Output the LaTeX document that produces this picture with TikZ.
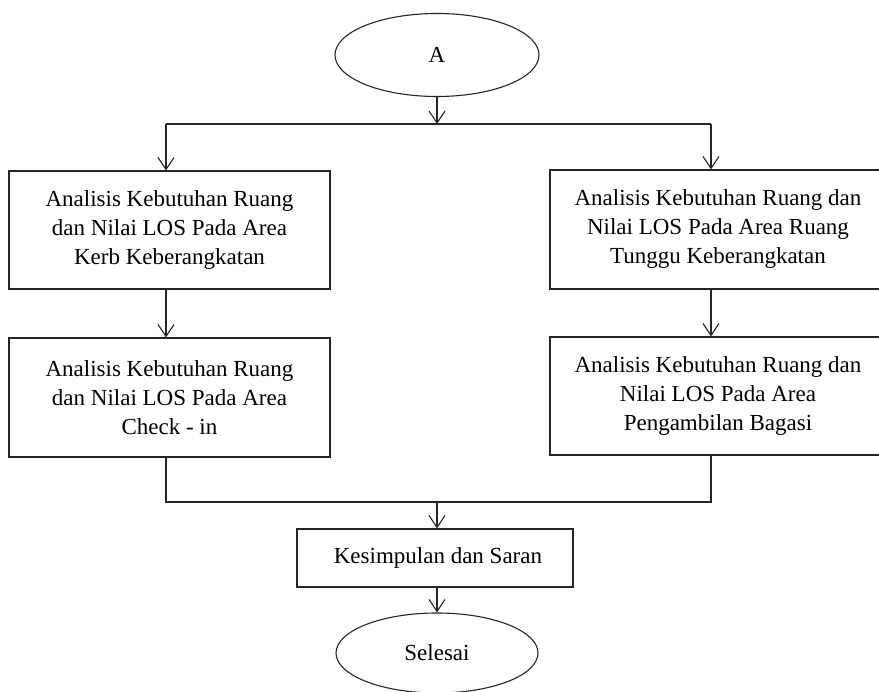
\documentclass[tikz,border=0pt]{standalone}
\usepackage{fontspec}
\setmainfont{Liberation Serif}
\usetikzlibrary{arrows.meta,shapes.geometric}
\begin{document}
\begin{tikzpicture}[x=1pt,y=-1pt,
  line/.style={draw=black!85, line width=1.1pt},
  arr/.style={line, -{Straight Barb[length=12pt,width=16pt,line width=1.1pt]}},
  box/.style={draw=black!85, line width=1.1pt, rectangle, align=center, inner sep=0pt, font=\fontsize{23}{29}\selectfont},
  term/.style={draw=black!85, line width=1.1pt, ellipse, inner sep=0pt, font=\fontsize{23}{29}\selectfont}]
\useasboundingbox (0,0) rectangle (879,692);
\fill[white] (0,0) rectangle (879,692);
\node[term, minimum width=204pt, minimum height=83pt] (A) at (437,55) {A};
\coordinate (split) at (437,124);
\coordinate (L) at (166,124);
\coordinate (R) at (711,124);
\node[box, minimum width=321pt, minimum height=118pt] (lb1) at (169.5,230)
  {Analisis Kebutuhan Ruang\\dan Nilai LOS Pada Area\\Kerb Keberangkatan};
\node[box, minimum width=336pt, minimum height=119pt] (rb1) at (718,229.5)
  {Analisis Kebutuhan Ruang dan\\Nilai LOS Pada Area Ruang\\Tunggu Keberangkatan};
\node[box, minimum width=321pt, minimum height=119pt] (lb2) at (169.5,397.5)
  {Analisis Kebutuhan Ruang\\dan Nilai LOS Pada Area\\Check - in};
\node[box, minimum width=336pt, minimum height=118pt] (rb2) at (718,396)
  {Analisis Kebutuhan Ruang dan\\Nilai LOS Pada Area\\Pengambilan Bagasi};
\coordinate (ML) at (166,502);
\coordinate (MR) at (711,502);
\coordinate (M) at (437,502);
\node[box, minimum width=276pt, minimum height=58pt] (ks) at (435,558)
  {\hspace*{6pt}Kesimpulan dan Saran};
\node[term, minimum width=202pt, minimum height=80pt] (S) at (437,653) {Selesai};
\draw[arr] (A) -- (split);
\draw[line] (L) -- (R);
\draw[arr] (L) -- (lb1.north -| L);
\draw[arr] (R) -- (rb1.north -| R);
\draw[arr] (lb1.south -| L) -- (lb2.north -| L);
\draw[arr] (rb1.south -| R) -- (rb2.north -| R);
\draw[line] (lb2.south -| ML) -- (ML) -- (MR) -- (rb2.south -| MR);
\draw[arr] (M) -- (ks.north -| M);
\draw[arr] (ks.south -| M) -- (S);
\end{tikzpicture}
\end{document}
